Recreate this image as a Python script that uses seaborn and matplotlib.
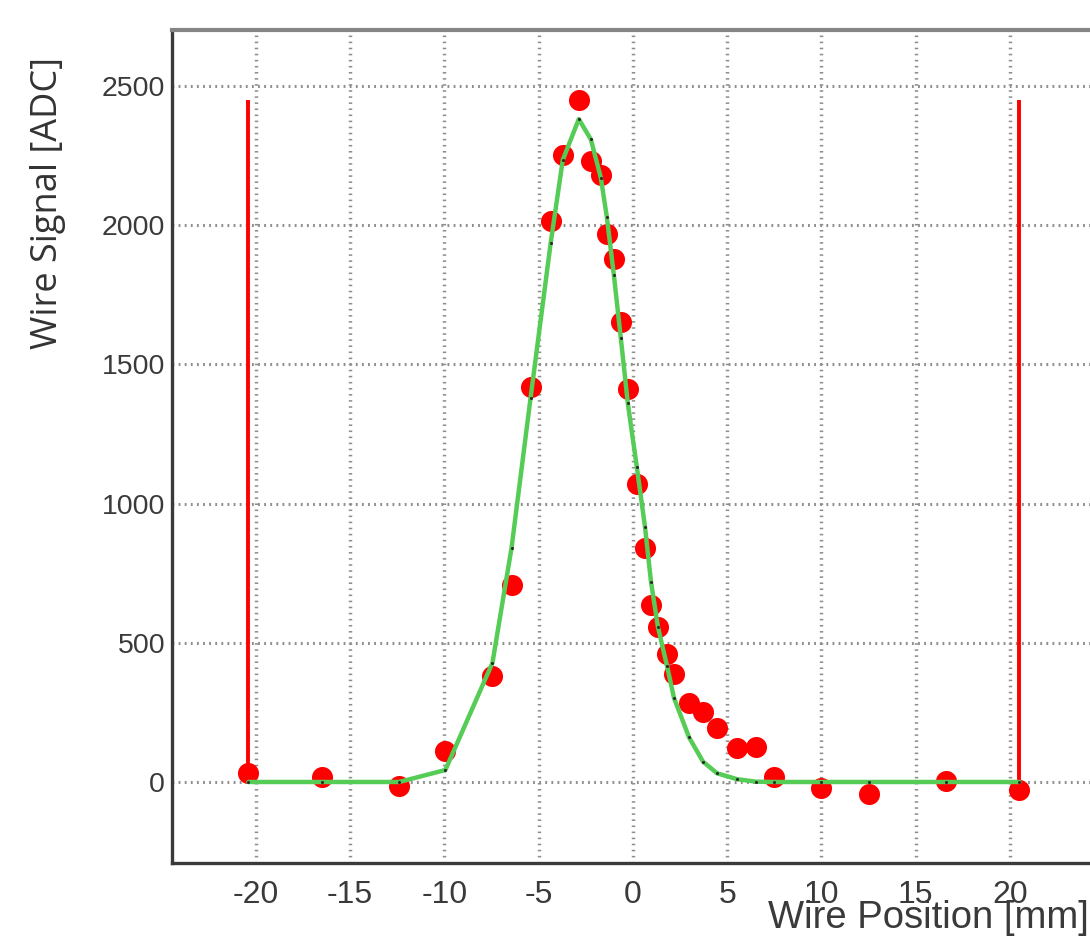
import matplotlib
matplotlib.use("Agg")
import matplotlib.pyplot as plt
import seaborn as sns
import pandas as pd
from matplotlib.ticker import MultipleLocator

# measured wire scan (positions in mm, signal in ADC)
wire_pos = [-20.4, -16.5, -12.4, -9.95, -7.45, -6.44, -5.43, -4.36, -3.72, -2.87,
            -2.23, -1.70, -1.38, -1.01, -0.64, -0.27, 0.21, 0.64, 0.96, 1.33,
            1.81, 2.18, 2.98, 3.72, 4.47, 5.53, 6.54, 7.5, 10.0, 12.5, 16.6, 20.5]
wire_signal = [32, 18, -14, 111, 381, 709, 1417, 2014, 2252, 2450,
               2230, 2180, 1968, 1878, 1651, 1410, 1072, 842, 637, 558,
               460, 388, 284, 252, 194, 122, 126, 18, -22, -43, 4, -29]

# fitted curve evaluated at the same positions
fit_signal = [0, 0, 0, 43, 428, 840, 1379, 1937, 2234, 2381,
              2308, 2170, 2028, 1821, 1594, 1360, 1130, 917, 719, 556,
              417, 302, 160, 73, 31, 10, 1, 0, 0, 0, 0, 0]

# fit range markers
range_x = [-20.4, 20.5]
range_top = 2450

df_pts = pd.DataFrame({"pos": wire_pos, "signal": wire_signal})
df_fit = pd.DataFrame({"pos": wire_pos, "fit": fit_signal})

sns.set_style("white")
plt.rcParams["font.family"] = ["Liberation Sans", "DejaVu Sans"]
plt.rcParams["axes.unicode_minus"] = False

fig = plt.figure(figsize=(10.9, 9.43), dpi=100)
ax = fig.add_axes([172 / 1090, 80 / 943, 921.8 / 1090, 833 / 943])

ax.vlines(range_x, 0, range_top, colors="#ff0000", lw=2.8, zorder=2)
sns.scatterplot(data=df_pts, x="pos", y="signal", ax=ax, color="#ff0000",
                s=230, linewidth=0, zorder=3)
sns.lineplot(data=df_fit, x="pos", y="fit", ax=ax, color="#55cc55", lw=3.2,
             sort=False, estimator=None, zorder=4)
sns.scatterplot(data=df_fit, x="pos", y="fit", ax=ax, color="#2a2a2a",
                s=5, linewidth=0, zorder=5)

ax.set_xlim(-24.45, 24.45)
ax.set_ylim(-291, 2701)

ax.xaxis.set_major_locator(MultipleLocator(5))
ax.xaxis.set_minor_locator(MultipleLocator(1))
ax.yaxis.set_major_locator(MultipleLocator(500))
ax.yaxis.set_minor_locator(MultipleLocator(100))

ax.tick_params(axis="both", which="both", direction="in", top=False, right=False,
               labelcolor="#3a3a3a")
ax.tick_params(axis="x", which="major", length=21.6, width=1.6, color="#555555",
               pad=12, labelsize=23)
ax.tick_params(axis="x", which="minor", length=9.4, width=2, color="#707070")
ax.tick_params(axis="y", which="major", length=21.6, width=1.6, color="#555555",
               pad=5, labelsize=20.5)
ax.tick_params(axis="y", which="minor", length=12.5, width=2, color="#707070")

ax.xaxis.grid(True, which="major", color="#8e8e8e", lw=2.5, linestyle=(0, (0.45, 1.3)))
ax.yaxis.grid(True, which="major", color="#8e8e8e", lw=2.2, linestyle=(0, (0.6, 1.4)))
ax.set_axisbelow(True)

for side in ["left", "bottom"]:
    ax.spines[side].set(color="#3a3a3a", lw=2.4)
ax.spines["top"].set(color="#858585", lw=3)
ax.spines["right"].set(color="#858585", lw=3)

ax.set_xlabel("Wire Position [mm]", fontsize=27.5, color="#3a3a3a",
              ha="right", va="baseline")
ax.xaxis.set_label_coords(0.995, -0.078)
ax.set_ylabel("Wire Signal [ADC]", fontsize=26, color="#333333",
              family=["Open Sans", "DejaVu Sans"], ha="center", va="center")
ax.yaxis.set_label_coords(-0.1345, 0.792)

fig.savefig("out.png", dpi=100)
